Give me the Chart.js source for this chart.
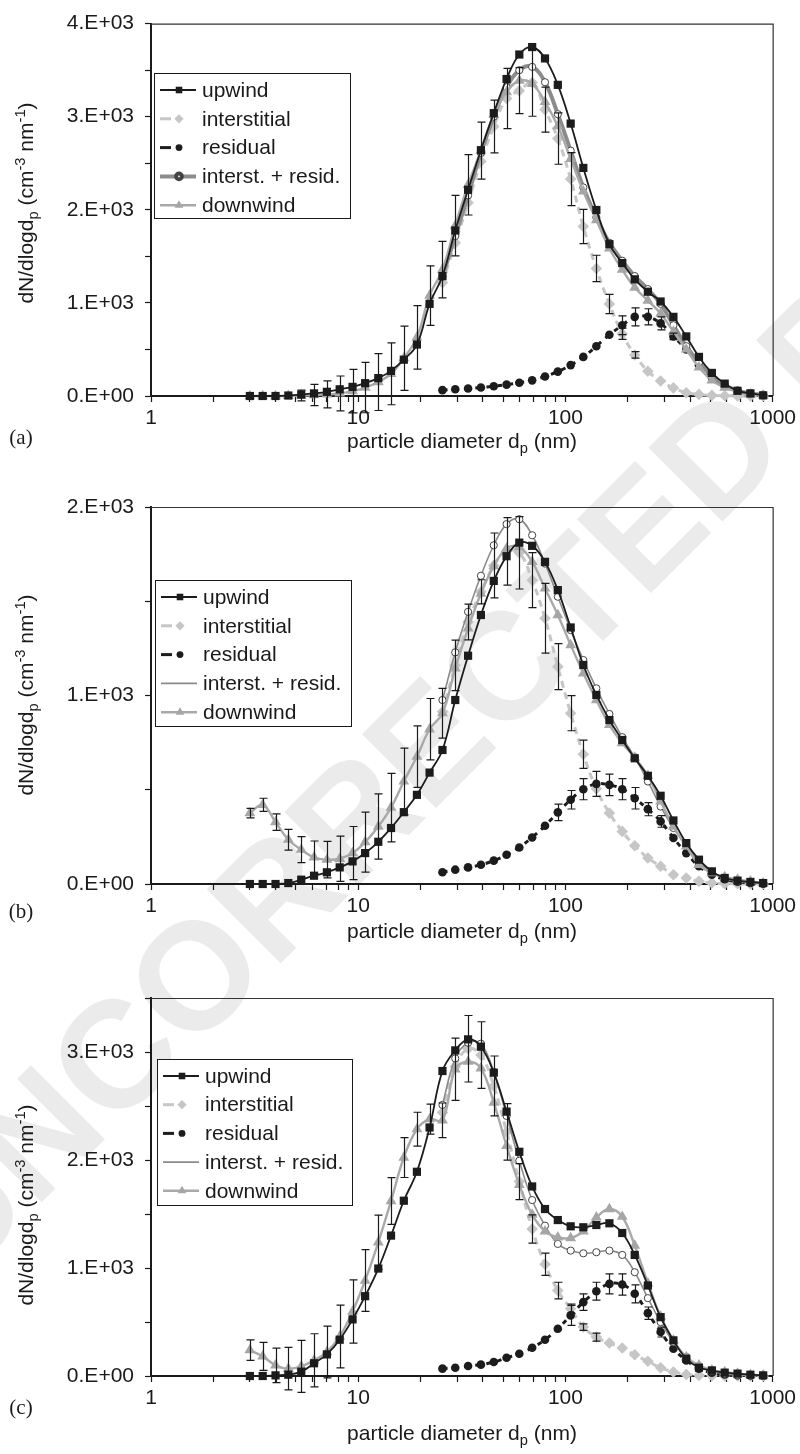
<!DOCTYPE html>
<html>
<head>
<meta charset="utf-8">
<script src="https://cdn.jsdelivr.net/npm/chart.js@4.4.1/dist/chart.umd.min.js"></script>
<style>
  html, body { margin: 0; padding: 0; background: #fff; }
  #page { position: relative; width: 800px; height: 1454px; overflow: hidden;
          font-family: "Liberation Sans", Arial, sans-serif; color: #1a1a1a; }
  #wm { position: absolute; left: -142px; top: 1188px; white-space: nowrap; line-height: 1;
        font: bold 152px "Liberation Sans", Arial, sans-serif; color: #ebebeb;
        transform-origin: 0 0; transform: rotate(-45deg); }
  canvas { position: absolute; left: 0; }
  .ytitle { position: absolute; font-size: 21px; white-space: nowrap;
            transform: translate(-50%, -50%) rotate(-90deg); }
  .xtitle { position: absolute; font-size: 21px; white-space: nowrap;
            transform: translate(-50%, -50%); }
  .tag { position: absolute; font-family: "Liberation Serif", "Times New Roman", serif;
         font-size: 21px; transform: translate(-50%, -50%); }
  sub, sup { font-size: 70%; line-height: 0; }
</style>
</head>
<body>
<div id="page">
  <div id="wm">UNCORRECTED PROOF</div>

  <canvas id="chartA" width="800" height="470" style="top:0"></canvas>
  <canvas id="chartB" width="800" height="480" style="top:480px"></canvas>
  <canvas id="chartC" width="800" height="494" style="top:960px"></canvas>

  <div class="ytitle" style="left:26px; top:203px">dN/dlogd<sub>p</sub> (cm<sup>-3</sup> nm<sup>-1</sup>)</div>
  <div class="ytitle" style="left:26px; top:695px">dN/dlogd<sub>p</sub> (cm<sup>-3</sup> nm<sup>-1</sup>)</div>
  <div class="ytitle" style="left:26px; top:1205px">dN/dlogd<sub>p</sub> (cm<sup>-3</sup> nm<sup>-1</sup>)</div>

  <div class="xtitle" style="left:462px; top:441px">particle diameter d<sub>p</sub> (nm)</div>
  <div class="xtitle" style="left:462px; top:931px">particle diameter d<sub>p</sub> (nm)</div>
  <div class="xtitle" style="left:462px; top:1433px">particle diameter d<sub>p</sub> (nm)</div>

  <div class="tag" style="left:21px; top:437px">(a)</div>
  <div class="tag" style="left:21px; top:911px">(b)</div>
  <div class="tag" style="left:21px; top:1407px">(c)</div>
</div>

<script>
// size bins (nm), shared by every panel
const diameters = [3.00, 3.46, 3.99, 4.60, 5.31, 6.12, 7.06, 8.14, 9.39, 10.8,
  12.5, 14.4, 16.6, 19.2, 22.1, 25.5, 29.4, 33.9, 39.1, 45.1,
  52.0, 59.9, 69.1, 79.7, 91.9, 106, 122, 141, 163, 188,
  216, 250, 288, 332, 383, 441, 509, 587, 677, 781, 900];

// interstitial / residual / sum start at this bin
const cloudStart = 15;

const xTicks = [1, 2, 3, 4, 5, 6, 7, 8, 9, 10, 20, 30, 40, 50, 60, 70, 80, 90,
  100, 200, 300, 400, 500, 600, 700, 800, 900, 1000];

const seriesNames = ['upwind', 'interstitial', 'residual', 'interst. + resid.', 'downwind'];

// (a)
const upwindA = [0, 0, 0, 5, 15, 28, 45, 72, 98, 138, 192, 270, 390, 553, 990, 1288, 1778, 2215, 2640, 3038,
  3405, 3668, 3748, 3626, 3342, 2926, 2450, 1998, 1631, 1428, 1253, 1120, 1015, 850, 640, 420, 248, 133, 56, 28, 7];
const downwindA = [0, 0, 0, 2, 5, 10, 17, 28, 52, 91, 150, 238, 406, 630, 1078, 1358, 1830, 2268, 2635, 3020,
  3265, 3388, 3353, 3160, 2898, 2548, 2198, 1890, 1585, 1358, 1165, 1025, 885, 693, 500, 308, 168, 91, 45, 17, 7];
const interstitialA = [1218, 1645, 2075, 2520, 2895, 3196, 3280, 3367, 3076, 2765, 2330, 1820, 1370, 988, 668,
  441, 266, 161, 87, 35, 17, 7, 3, 1, 0, 0];
const residualA = [63, 73, 80, 91, 105, 122, 143, 168, 210, 262, 332, 420, 535, 658, 760, 850, 850, 780, 640,
  500, 330, 200, 110, 56, 28, 10];
const sumA = [1281, 1718, 2155, 2611, 3000, 3318, 3500, 3535, 3370, 3027, 2635, 2240, 1918, 1645, 1453, 1288,
  1148, 990, 760, 535, 360, 215, 115, 57, 28, 10];
const errDownA = [58, 114, 145, 187, 234, 271, 306, 332, 345, 341, 320, 303, 324, 324, 306];   // from bin 4
const errInterA = [283, 324, 248, 362, 241, 276, 285, 184, 142, 103, 60, 35];                  // from bin 19
const errResA = [100, 96, 87, 70, 35];                                                          // from bin 29

// (b)
const upwindB = [0, 0, 0, 5, 23, 44, 62, 88, 120, 164, 224, 297, 381, 473, 591, 711, 976, 1211, 1427, 1608,
  1739, 1811, 1794, 1709, 1559, 1361, 1162, 1003, 870, 764, 667, 574, 468, 337, 217, 129, 67, 32, 18, 11, 5];
const downwindB = [376, 420, 328, 235, 182, 141, 129, 134, 164, 222, 305, 405, 544, 676, 821, 906, 1144, 1356,
  1541, 1686, 1780, 1788, 1709, 1568, 1427, 1268, 1118, 976, 844, 747, 671, 574, 438, 305, 200, 102, 58, 37, 23, 14, 5];
const interstitialB = [914, 1160, 1390, 1550, 1690, 1765, 1757, 1612, 1410, 1153, 906, 688, 505, 376, 279, 203,
  138, 94, 49, 32, 14, 5, 2, 1, 0, 0];
const residualB = [62, 76, 88, 102, 124, 155, 194, 247, 309, 380, 447, 503, 531, 526, 503, 455, 397, 332, 244,
  164, 94, 49, 25, 12, 5, 2];
const sumB = [976, 1229, 1444, 1635, 1797, 1909, 1935, 1850, 1700, 1524, 1347, 1188, 1038, 902, 779, 673, 544,
  411, 297, 203, 120, 62, 30, 15, 8, 3];
const errDownB = [25, 35, 44, 55, 69, 87, 97, 120, 141, 159, 173, 182, 177, 163, 163, 132];   // from bin 0
const errInterB = [134, 95, 64, 172, 179, 192, 146, 185, 122, 93, 75];                       // from bin 16
const errResB = [44, 49, 56, 66, 57, 56, 57, 35, 31];                                         // from bin 24

// (c)
const upwindC = [0, 0, 6, 12, 40, 118, 200, 336, 524, 739, 995, 1300, 1623, 1891, 2301, 2824, 3015, 3117, 3049,
  2809, 2448, 2076, 1755, 1546, 1444, 1386, 1377, 1398, 1414, 1324, 1121, 838, 545, 330, 160, 77, 52, 31, 22, 12, 6];
const downwindC = [240, 182, 99, 68, 89, 145, 222, 366, 597, 884, 1238, 1620, 2023, 2285, 2378, 2368, 2840, 2910,
  2849, 2532, 2131, 1771, 1494, 1340, 1284, 1278, 1340, 1469, 1546, 1475, 1207, 859, 551, 330, 176, 99, 52, 37, 22, 12, 6];
const interstitialC = [2440, 2864, 3030, 2972, 2686, 2260, 1800, 1361, 1035, 791, 622, 453, 360, 305, 259, 197,
  136, 77, 37, 15, 6, 3, 1, 0, 0, 0];
const residualC = [68, 77, 92, 105, 129, 169, 206, 262, 336, 437, 561, 684, 785, 853, 847, 761, 582, 407, 253,
  145, 68, 31, 15, 8, 4, 2];
const sumC = [2510, 2941, 3086, 3077, 2815, 2408, 1993, 1629, 1392, 1223, 1161, 1136, 1146, 1161, 1121, 961, 721,
  499, 314, 176, 92, 45, 22, 10, 5, 2];
const errDownC = [95, 129, 160, 197, 240, 246, 240, 290, 293, 286, 251, 216, 185, 157, 139, 160, 288]; // from bin 0
const errInterC = [308, 308, 277, 262, 166, 131, 103, 77, 43, 30, 37];                                // from bin 17
const errResC = [92, 77, 83, 92, 99, 83, 57, 46];                                                     // from bin 25

const FONT = '"Liberation Sans", Arial, sans-serif';
const INK = '#1a1a1a';

function pts(vals, start = 0) {
  return vals.map((v, i) => ({ x: diameters[start + i], y: v }));
}

// 4000 -> "4.E+03"
function sci(v) {
  if (v === 0) return '0.E+00';
  const e = Math.floor(Math.log10(v) + 1e-9);
  return Math.round(v / Math.pow(10, e)) + '.E+' + String(e).padStart(2, '0');
}

// top and right edges of the plot box
const framePlugin = {
  id: 'frame',
  afterDraw(chart) {
    const { ctx, chartArea: a } = chart;
    ctx.save();
    ctx.strokeStyle = '#333';
    ctx.lineWidth = 1.2;
    ctx.beginPath();
    ctx.moveTo(a.left, a.top + 0.5);
    ctx.lineTo(a.right + 0.5, a.top + 0.5);
    ctx.lineTo(a.right + 0.5, a.bottom);
    ctx.stroke();
    ctx.restore();
  }
};

// vertical error bars with caps; sets = [{dataset, start, err}]
const errorBarPlugin = {
  id: 'errorBars',
  afterDatasetsDraw(chart, args, opts) {
    const { ctx, chartArea, scales: { x, y } } = chart;
    const floor = chartArea.bottom + 17;
    const cap = 4;
    ctx.save();
    ctx.strokeStyle = INK;
    ctx.lineWidth = 1.2;
    opts.sets.forEach(s => {
      const ds = chart.data.datasets[s.dataset];
      s.err.forEach((e, i) => {
        const p = ds.data.find(q => q.x === diameters[s.start + i]);
        if (!p) return;
        const px = Math.round(x.getPixelForValue(p.x)) + 0.5;
        const top = y.getPixelForValue(p.y + e);
        let bot = y.getPixelForValue(p.y - e);
        const clipped = bot > floor;
        if (clipped) bot = floor;
        ctx.beginPath();
        ctx.moveTo(px, top); ctx.lineTo(px, bot);
        ctx.moveTo(px - cap, top); ctx.lineTo(px + cap, top);
        if (!clipped) { ctx.moveTo(px - cap, bot); ctx.lineTo(px + cap, bot); }
        ctx.stroke();
      });
    });
    ctx.restore();
  }
};

// boxed legend inside the plot area
const legendBoxPlugin = {
  id: 'legendBox',
  afterDraw(chart, args, o) {
    const ctx = chart.ctx;
    ctx.save();
    ctx.fillStyle = '#fff';
    ctx.fillRect(o.left, o.top, o.width, o.height);
    ctx.strokeStyle = INK;
    ctx.lineWidth = 1;
    ctx.strokeRect(o.left + 0.5, o.top + 0.5, o.width, o.height);
    chart.data.datasets.forEach((ds, i) => {
      const yy = o.rowTop + i * o.rowGap;
      const x0 = o.left + 6, x1 = o.left + 42, xm = o.left + 25;
      ctx.strokeStyle = ds.borderColor;
      ctx.lineWidth = ds.borderWidth;
      ctx.setLineDash(ds.borderDash ? [11, 60] : []);
      ctx.beginPath();
      ctx.moveTo(x0, yy); ctx.lineTo(x1, yy);
      ctx.stroke();
      ctx.setLineDash([]);
      if (ds.legendMarker !== false) {
        ctx.fillStyle = ds.pointBackgroundColor;
        ctx.strokeStyle = ds.pointBorderColor;
        Chart.helpers.drawPoint(ctx, {
          pointStyle: ds.pointStyle, rotation: 0,
          radius: ds.pointRadius * 0.8, borderWidth: ds.pointBorderWidth
        }, xm, yy);
      }
      ctx.fillStyle = INK;
      ctx.font = '21px ' + FONT;
      ctx.textBaseline = 'middle';
      ctx.fillText(ds.label, o.left + 48, yy + 1);
    });
    ctx.restore();
  }
};

function makePanel(id, p) {
  const datasets = [
    { label: seriesNames[0], data: pts(p.upwind), order: 0,
      borderColor: '#1c1c1c', borderWidth: 1.8,
      pointStyle: 'rect', pointRadius: 5.8, pointBackgroundColor: '#1c1c1c',
      pointBorderColor: '#1c1c1c', pointBorderWidth: 0 },
    { label: seriesNames[1], data: pts(p.interstitial, cloudStart), order: 4,
      borderColor: '#c6c6c6', borderWidth: 3, borderDash: [7, 5],
      pointStyle: 'rectRot', pointRadius: 5.8, pointBackgroundColor: '#c6c6c6',
      pointBorderColor: '#c6c6c6', pointBorderWidth: 0 },
    { label: seriesNames[2], data: pts(p.residual, cloudStart), order: 3,
      borderColor: '#1c1c1c', borderWidth: 3, borderDash: [5, 6],
      pointStyle: 'circle', pointRadius: 4.3, pointBackgroundColor: '#1c1c1c',
      pointBorderColor: '#1c1c1c', pointBorderWidth: 0 },
    { label: seriesNames[3], data: pts(p.sum, cloudStart), order: 2,
      borderColor: p.sumThick ? '#8c8c8c' : '#8a8a8a', borderWidth: p.sumThick ? 4 : 1.6,
      pointStyle: 'circle', pointRadius: 3.6, pointBackgroundColor: '#fff',
      pointBorderColor: '#444', pointBorderWidth: 1, legendMarker: p.sumThick },
    { label: seriesNames[4], data: pts(p.downwind), order: 1,
      borderColor: '#a9a9a9', borderWidth: 2.4,
      pointStyle: 'triangle', pointRadius: 6.3, pointBackgroundColor: '#a6a6a6',
      pointBorderColor: '#a6a6a6', pointBorderWidth: 0 }
  ];
  datasets.forEach(d => { d.tension = 0.4; d.clip = false; d.fill = false; });

  const tickFont = { family: FONT, size: 21 };
  return new Chart(document.getElementById(id), {
    type: 'line',
    data: { datasets },
    options: {
      responsive: false,
      animation: false,
      devicePixelRatio: 1,
      layout: { padding: { left: 0, right: 26, top: p.padTop, bottom: p.padBottom } },
      plugins: {
        legend: { display: false },
        tooltip: { enabled: false },
        legendBox: p.legend,
        errorBars: { sets: p.errors }
      },
      scales: {
        x: {
          type: 'logarithmic', min: 1, max: 1000,
          afterBuildTicks: s => { s.ticks = xTicks.map(v => ({ value: v })); },
          afterFit: s => { s.height = 40; },
          ticks: {
            autoSkip: false, maxRotation: 0, padding: 4, color: INK, font: tickFont,
            callback: v => Math.abs(Math.log10(v) - Math.round(Math.log10(v))) < 1e-9 ? String(v) : ''
          },
          grid: { drawOnChartArea: false, tickLength: 6, tickColor: INK, tickWidth: 1.2 },
          border: { color: INK, width: 2 }
        },
        y: {
          min: 0, max: p.yMax,
          afterFit: s => { s.width = 151; },
          ticks: {
            stepSize: 500, autoSkip: false, padding: 11, color: INK, font: tickFont,
            callback: v => v % 1000 === 0 ? sci(v) : ''
          },
          grid: { drawOnChartArea: false, tickLength: 6, tickColor: INK, tickWidth: 1.2 },
          border: { color: INK, width: 2 }
        }
      }
    },
    plugins: [framePlugin, errorBarPlugin, legendBoxPlugin]
  });
}

makePanel('chartA', {
  upwind: upwindA, interstitial: interstitialA, residual: residualA, sum: sumA, downwind: downwindA,
  sumThick: true, yMax: 4000, padTop: 15, padBottom: 34,
  legend: { left: 154, top: 73, width: 196, height: 145, rowTop: 90, rowGap: 28.8 },
  errors: [
    { dataset: 4, start: 4, err: errDownA },
    { dataset: 1, start: 19, err: errInterA },
    { dataset: 2, start: 29, err: errResA }
  ]
});

makePanel('chartB', {
  upwind: upwindB, interstitial: interstitialB, residual: residualB, sum: sumB, downwind: downwindB,
  sumThick: false, yMax: 2000, padTop: 27, padBottom: 36,
  legend: { left: 155, top: 100, width: 196, height: 146, rowTop: 117, rowGap: 28.8 },
  errors: [
    { dataset: 4, start: 0, err: errDownB },
    { dataset: 1, start: 16, err: errInterB },
    { dataset: 2, start: 24, err: errResB }
  ]
});

makePanel('chartC', {
  upwind: upwindC, interstitial: interstitialC, residual: residualC, sum: sumC, downwind: downwindC,
  sumThick: false, yMax: 3500, padTop: 38, padBottom: 38,
  legend: { left: 157, top: 99, width: 195, height: 146, rowTop: 116, rowGap: 28.7 },
  errors: [
    { dataset: 4, start: 0, err: errDownC },
    { dataset: 1, start: 17, err: errInterC },
    { dataset: 2, start: 25, err: errResC }
  ]
});
</script>
</body>
</html>
